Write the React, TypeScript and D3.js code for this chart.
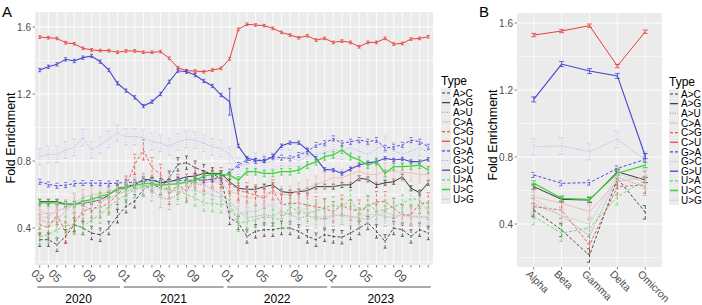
import React from 'react';
import * as d3 from 'd3';

// ---------- DATA ----------
const months = [
  '2020-03','2020-04','2020-05','2020-06','2020-07','2020-08','2020-09','2020-10','2020-11','2020-12',
  '2021-01','2021-02','2021-03','2021-04','2021-05','2021-06','2021-07','2021-08','2021-09','2021-10','2021-11','2021-12',
  '2022-01','2022-02','2022-03','2022-04','2022-05','2022-06','2022-07','2022-08','2022-09','2022-10','2022-11','2022-12',
  '2023-01','2023-02','2023-03','2023-04','2023-05','2023-06','2023-07','2023-08','2023-09','2023-10','2023-11','2023-12'
];
const monthTicks = ['2020-03','2020-05','2020-09','2021-01','2021-05','2021-09','2022-01','2022-05','2022-09','2023-01','2023-05','2023-09'];
const years = ['2020','2021','2022','2023'];
const types = ['A>C','A>G','A>U','C>A','C>G','C>U','G>A','G>C','G>U','U>A','U>C','U>G'];
const variants = ['Alpha','Beta','Gamma','Delta','Omicron'];
const yTicks = [0.4, 0.8, 1.2, 1.6];
const yMinor = [0.2, 0.6, 1.0, 1.4];

// monthly fold enrichment, one list per type
const tsAC = [0.33,0.33,0.30,0.35,0.42,0.40,0.37,0.36,0.40,0.47,0.53,0.56,0.63,0.66,0.64,0.70,0.78,0.79,0.76,0.74,0.72,0.70,0.46,0.43,0.35,0.38,0.39,0.39,0.40,0.40,0.38,0.35,0.33,0.36,0.35,0.345,0.37,0.40,0.43,0.38,0.32,0.40,0.39,0.35,0.39,0.37];
const tsAG = [0.557,0.557,0.557,0.543,0.543,0.547,0.557,0.567,0.597,0.637,0.647,0.657,0.69,0.687,0.67,0.676,0.69,0.706,0.71,0.726,0.726,0.726,0.676,0.637,0.631,0.631,0.647,0.657,0.617,0.611,0.617,0.623,0.647,0.647,0.647,0.657,0.657,0.697,0.69,0.657,0.67,0.676,0.706,0.637,0.611,0.67];
const tsAU = [0.45,0.43,0.45,0.50,0.55,0.54,0.50,0.55,0.58,0.60,0.62,0.64,0.66,0.62,0.58,0.57,0.60,0.64,0.66,0.66,0.63,0.60,0.56,0.50,0.46,0.47,0.48,0.47,0.50,0.48,0.46,0.47,0.46,0.45,0.47,0.48,0.47,0.46,0.45,0.48,0.47,0.46,0.48,0.47,0.47,0.46];
const tsCA = [0.50,0.48,0.50,0.52,0.55,0.58,0.60,0.60,0.62,0.63,0.65,0.67,0.68,0.67,0.66,0.66,0.66,0.67,0.67,0.67,0.68,0.67,0.62,0.60,0.58,0.58,0.60,0.62,0.60,0.60,0.62,0.64,0.66,0.68,0.70,0.70,0.72,0.74,0.72,0.72,0.74,0.74,0.73,0.73,0.72,0.72];
const tsCG = [0.42,0.40,0.48,0.37,0.43,0.50,0.52,0.52,0.55,0.60,0.65,0.78,0.866,0.76,0.72,0.60,0.66,0.62,0.70,0.68,0.70,0.70,0.667,0.627,0.61,0.597,0.577,0.627,0.537,0.547,0.547,0.537,0.527,0.517,0.497,0.537,0.507,0.507,0.527,0.557,0.557,0.517,0.478,0.478,0.547,0.55];
const tsCU = [1.540,1.536,1.532,1.506,1.500,1.473,1.463,1.459,1.459,1.449,1.457,1.457,1.449,1.449,1.453,1.413,1.357,1.339,1.337,1.333,1.343,1.353,1.410,1.586,1.616,1.612,1.608,1.592,1.568,1.552,1.536,1.548,1.522,1.532,1.508,1.516,1.508,1.482,1.508,1.508,1.532,1.498,1.502,1.528,1.532,1.542];
const tsGA = [0.676,0.66,0.652,0.656,0.665,0.668,0.668,0.668,0.665,0.668,0.672,0.672,0.68,0.684,0.68,0.676,0.684,0.684,0.686,0.686,0.69,0.70,0.736,0.776,0.806,0.80,0.81,0.826,0.82,0.816,0.836,0.856,0.896,0.906,0.935,0.906,0.915,0.925,0.915,0.925,0.876,0.885,0.896,0.925,0.915,0.885];
const tsGC = [0.826,0.84,0.84,0.866,0.882,0.941,0.866,0.896,0.93,0.967,0.945,0.945,0.941,0.915,0.906,0.885,0.915,0.929,0.925,0.906,0.885,0.876,0.836,0.77,0.78,0.80,0.79,0.80,0.82,0.82,0.80,0.83,0.84,0.85,0.87,0.86,0.88,0.86,0.84,0.87,0.90,0.86,0.84,0.86,0.88,0.85];
const tsGU = [1.343,1.363,1.377,1.407,1.397,1.417,1.427,1.393,1.343,1.264,1.220,1.180,1.128,1.154,1.200,1.273,1.339,1.333,1.313,1.278,1.248,1.194,1.154,0.89,0.816,0.806,0.80,0.826,0.891,0.909,0.909,0.866,0.816,0.75,0.746,0.726,0.752,0.776,0.79,0.796,0.816,0.806,0.812,0.796,0.796,0.81];
const tsUA = [0.348,0.36,0.388,0.418,0.41,0.41,0.448,0.478,0.527,0.567,0.597,0.63,0.65,0.66,0.64,0.63,0.62,0.60,0.58,0.55,0.547,0.54,0.547,0.428,0.44,0.45,0.467,0.46,0.45,0.527,0.50,0.488,0.50,0.52,0.537,0.52,0.577,0.47,0.547,0.50,0.51,0.527,0.547,0.577,0.567,0.50];
const tsUC = [0.55,0.55,0.55,0.54,0.54,0.56,0.57,0.59,0.60,0.63,0.64,0.655,0.665,0.665,0.655,0.66,0.665,0.675,0.685,0.71,0.72,0.72,0.716,0.687,0.736,0.736,0.726,0.726,0.736,0.736,0.746,0.776,0.796,0.826,0.836,0.866,0.826,0.806,0.776,0.796,0.726,0.766,0.766,0.77,0.776,0.746];
const tsUG = [0.46,0.47,0.50,0.52,0.53,0.55,0.56,0.57,0.58,0.60,0.62,0.63,0.64,0.64,0.63,0.62,0.63,0.63,0.62,0.61,0.60,0.58,0.52,0.48,0.50,0.50,0.52,0.55,0.50,0.48,0.50,0.52,0.47,0.46,0.48,0.47,0.46,0.47,0.48,0.48,0.49,0.48,0.47,0.47,0.46,0.47];

// variant fold enrichment (Alpha, Beta, Gamma, Delta, Omicron)
const vAC = [0.483,0.364,0.212,0.672,0.47];
const vAG = [0.623,0.547,0.543,0.712,0.663];
const vAU = [0.52,0.45,0.33,0.68,0.62];
const vCA = [0.563,0.524,0.474,0.653,0.68];
const vCG = [0.503,0.483,0.275,0.623,0.633];
const vCU = [1.528,1.552,1.584,1.343,1.548];
const vGA = [0.693,0.643,0.647,0.732,0.786];
const vGC = [0.861,0.866,0.832,0.906,0.782];
const vGU = [1.144,1.355,1.313,1.284,0.806];
const vUA = [0.444,0.346,0.376,0.563,0.663];
const vUC = [0.643,0.553,0.547,0.703,0.752];
const vUG = [0.55,0.45,0.40,0.70,0.65];

// error bar half-widths per type (time series / variants)
const errTs = [0.04,0.015,0.06,0.05,0.06,0.008,0.015,0.05,0.01,0.05,0.02,0.05];
const errVar = [0.04,0.015,0.05,0.04,0.05,0.01,0.015,0.05,0.015,0.05,0.015,0.04];
const errTsOverride = [{ type: 'G>U', month: '2022-01', err: 0.08 }];

const tsData = [tsAC,tsAG,tsAU,tsCA,tsCG,tsCU,tsGA,tsGC,tsGU,tsUA,tsUC,tsUG];
const varData = [vAC,vAG,vAU,vCA,vCG,vCU,vGA,vGC,vGU,vUA,vUC,vUG];

// ---------- STYLES ----------
const styles: Record<string, { color: string; dash: string; width: number }> = {
  'A>C': { color: '#3a3a3a', dash: '3,2', width: 0.9 },
  'A>G': { color: '#3a3a3a', dash: '', width: 1.0 },
  'A>U': { color: '#8a8a8a', dash: '1,1.5', width: 0.9 },
  'C>A': { color: '#f3b3b0', dash: '', width: 0.8 },
  'C>G': { color: '#e8524d', dash: '3,2', width: 0.9 },
  'C>U': { color: '#e8413c', dash: '', width: 1.0 },
  'G>A': { color: '#4b4bdc', dash: '3,2', width: 1.0 },
  'G>C': { color: '#a4a4ee', dash: '1,1.5', width: 0.9 },
  'G>U': { color: '#4545d0', dash: '', width: 1.1 },
  'U>A': { color: '#62d862', dash: '3,2', width: 0.9 },
  'U>C': { color: '#3ed23e', dash: '', width: 1.3 },
  'U>G': { color: '#cfcfcf', dash: '', width: 0.8 },
};

const FONT = 'Liberation Sans, Arial, sans-serif';
const TXT = '#4d4d4d';

export default function App() {
  // Panel A geometry
  const aL = 35, aR = 433, aT = 12, aB = 265;
  const xA = d3.scalePoint<string>().domain(months).range([aL, aR]).padding(0.55);
  const yA = d3.scaleLinear().domain([0.4, 1.6]).range([228, 27]);
  // Panel B geometry
  const bL = 517, bR = 662, bT = 13, bB = 267;
  const xB = d3.scalePoint<string>().domain(variants).range([bL, bR]).padding(0.6);
  const yB = d3.scaleLinear().domain([0.4, 1.6]).range([224, 23]);

  const renderSeries = (cats: string[], xs: any, ys: any, dataSet: number[][], errs: number[], keyP: string, capW: number) => {
    return types.map((t, ti) => {
      const st = styles[t];
      const vals = dataSet[ti];
      const line = d3.line<number>().x((_, i) => xs(cats[i])).y((v) => ys(v));
      const bars = vals.map((v, i) => {
        let e = errs[ti];
        const ov = keyP === 'A' ? errTsOverride.find((o) => o.type === t && o.month === cats[i]) : null;
        if (ov) e = ov.err;
        const cx = xs(cats[i]);
        const y1 = ys(v - e), y2 = ys(v + e);
        return (
          <g key={i}>
            <line x1={cx} x2={cx} y1={y1} y2={y2} />
            <line x1={cx - capW} x2={cx + capW} y1={y1} y2={y1} strokeDasharray="" />
            <line x1={cx - capW} x2={cx + capW} y1={y2} y2={y2} strokeDasharray="" />
          </g>
        );
      });
      return (
        <g key={keyP + t} stroke={st.color} fill="none" strokeWidth={st.width}>
          <g strokeDasharray={st.dash} strokeWidth={0.8}>{bars}</g>
          <path d={line(vals) || ''} strokeDasharray={st.dash} />
        </g>
      );
    });
  };

  const grid = (L: number, R: number, T: number, B: number, ys: any, xs: any, cats: string[]) => (
    <g>
      <rect x={L} y={T} width={R - L} height={B - T} fill="#ebebeb" />
      {yMinor.map((v) => (
        ys(v) > T && ys(v) < B ? <line key={'mn' + v} x1={L} x2={R} y1={ys(v)} y2={ys(v)} stroke="#fff" strokeWidth={0.5} /> : null
      ))}
      {yTicks.map((v) => (
        <line key={'mj' + v} x1={L} x2={R} y1={ys(v)} y2={ys(v)} stroke="#fff" strokeWidth={1} />
      ))}
      {cats.map((c) => (
        <line key={'v' + c} x1={xs(c)} x2={xs(c)} y1={T} y2={B} stroke="#fff" strokeWidth={0.8} />
      ))}
    </g>
  );

  const yAxis = (L: number, ys: any) => (
    <g fontFamily={FONT} fontSize={10} fill={TXT}>
      {yTicks.map((v) => (
        <g key={'yt' + v}>
          <line x1={L - 2.5} x2={L} y1={ys(v)} y2={ys(v)} stroke="#333" strokeWidth={0.6} />
          <text x={L - 4} y={ys(v)} dy="0.35em" textAnchor="end">{v.toFixed(1)}</text>
        </g>
      ))}
    </g>
  );

  const legend = (lx: number, ty: number, keyP: string) => (
    <g fontFamily={FONT}>
      <text x={lx} y={ty} fontSize={12} fill="#000">Type</text>
      {types.map((t, i) => {
        const cy = ty + 8 + i * 9.65;
        const st = styles[t];
        return (
          <g key={keyP + 'lg' + t}>
            <rect x={lx} y={cy - 4.8} width={10} height={9.65} fill="#ebebeb" />
            <line x1={lx + 1} x2={lx + 9} y1={cy} y2={cy} stroke={st.color} strokeWidth={st.width + 0.2} strokeDasharray={st.dash} />
            <text x={lx + 12} y={cy} dy="0.36em" fontSize={10} fill="#000">{t}</text>
          </g>
        );
      })}
    </g>
  );

  const yearRanges = years.map((yr) => {
    const ms = months.filter((m) => m.startsWith(yr));
    return { yr, x1: (xA(ms[0]) as number) - 2.5, x2: (xA(ms[ms.length - 1]) as number) + 2.5 };
  });

  return (
    <svg width={702} height={305} style={{ position: 'absolute', left: 0, top: 0, background: '#fff' }}>
      {/* Panel A */}
      {grid(aL, aR, aT, aB, yA, xA, months)}
      {renderSeries(months, xA, yA, tsData, errTs, 'A', 1.5)}
      {yAxis(aL, yA)}
      <g fontFamily={FONT} fontSize={11.5} fill={TXT}>
        {months.map((m) => (
          <line key={'xt' + m} x1={xA(m)} x2={xA(m)} y1={aB} y2={aB + 2.5} stroke="#333" strokeWidth={0.6} />
        ))}
        {monthTicks.map((m) => (
          <text key={'xl' + m} transform={`translate(${(xA(m) as number) - 3.5},${aB + 3.5}) rotate(45)`} dy="0.7em">{m.slice(5)}</text>
        ))}
      </g>
      {yearRanges.map((r) => (
        <g key={'yr' + r.yr}>
          <line x1={r.x1} x2={r.x2} y1={287} y2={287} stroke="#555" strokeWidth={1} />
          <text x={(r.x1 + r.x2) / 2} y={303} textAnchor="middle" fontFamily={FONT} fontSize={12} fill="#000">{r.yr}</text>
        </g>
      ))}
      <text transform="translate(14.5,138) rotate(-90)" textAnchor="middle" fontFamily={FONT} fontSize={12.5} fill="#000">Fold Enrichment</text>
      <text x={2} y={17} fontFamily={FONT} fontSize={15} fill="#000">A</text>
      {legend(441, 85, 'A')}

      {/* Panel B */}
      {grid(bL, bR, bT, bB, yB, xB, variants)}
      {renderSeries(variants, xB, yB, varData, errVar, 'B', 2.5)}
      {yAxis(bL, yB)}
      <g fontFamily={FONT} fontSize={10.5} fill={TXT}>
        {variants.map((v) => (
          <g key={'bx' + v}>
            <line x1={xB(v)} x2={xB(v)} y1={bB} y2={bB + 2.5} stroke="#333" strokeWidth={0.6} />
            <text transform={`translate(${(xB(v) as number) - 3},${bB + 2.5}) rotate(45)`} dy="0.7em">{v}</text>
          </g>
        ))}
      </g>
      <text transform="translate(497,135) rotate(-90)" textAnchor="middle" fontFamily={FONT} fontSize={12.5} fill="#000">Fold Enrichment</text>
      <text x={479} y={17} fontFamily={FONT} fontSize={15} fill="#000">B</text>
      {legend(669, 86, 'B')}
    </svg>
  );
}
